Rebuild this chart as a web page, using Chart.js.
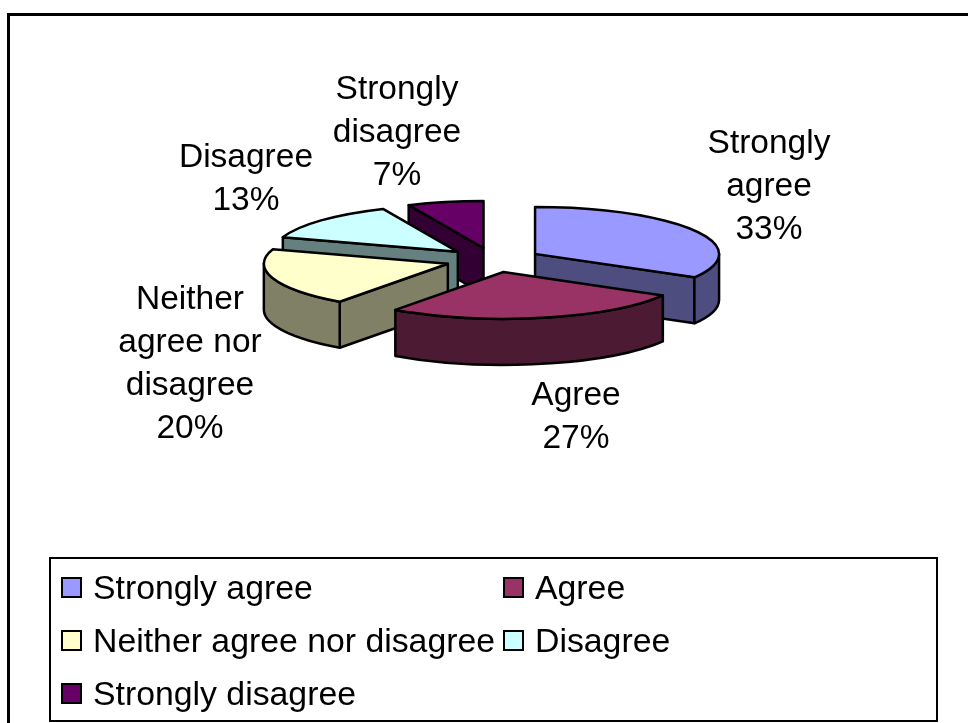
<!DOCTYPE html>
<html>
<head>
<meta charset="utf-8">
<title>Agreement pie</title>
<script src="https://cdn.jsdelivr.net/npm/chart.js@4"></script>
<style>
  html, body { margin: 0; padding: 0; background: #fff; }
  canvas { display: block; }
</style>
</head>
<body>
<canvas id="pie" width="968" height="723"></canvas>
<script>
const categories = ["Strongly agree", "Agree", "Neither agree nor disagree", "Disagree", "Strongly disagree"];
const responses = [5, 4, 3, 2, 1];
const topColors = ["#9999ff", "#993366", "#ffffcc", "#ccffff", "#660066"];
const sideColors = ["#4d4d80", "#4d1a33", "#808066", "#668080", "#330033"];
const labelLines = [
  ["Strongly", "agree"],
  ["Agree"],
  ["Neither", "agree nor", "disagree"],
  ["Disagree"],
  ["Strongly", "disagree"]
];

// layout only, not data
const LABEL_FONT = '33.5px "Liberation Sans", Arial, sans-serif';
const LEGEND_FONT = '33.8px "Liberation Sans", Arial, sans-serif';
const TILT = 0.255;
const DEPTH = 46;
const LABEL_BOXES = [[769, 144], [576, 396], [190, 300], [246, 158], [397, 90]];
const LABEL_LINE_H = 42.8;
const LEGEND_BOX = { left: 50, top: 558, right: 937, bottom: 721 };
const LEGEND_COLS = [62, 504];
const LEGEND_ROWS = [578, 631, 684];

function sidePath(ctx, x, y, rx, ry, a, b) {
  ctx.beginPath();
  ctx.ellipse(x, y, rx, ry, 0, a, b);
  ctx.ellipse(x, y + DEPTH, rx, ry, 0, b, a, true);
  ctx.closePath();
}

function radialWall(ctx, x, y, rx, ry, angle) {
  const ex = x + Math.cos(angle) * rx;
  const ey = y + Math.sin(angle) * ry;
  ctx.beginPath();
  ctx.moveTo(x, y);
  ctx.lineTo(ex, ey);
  ctx.lineTo(ex, ey + DEPTH);
  ctx.lineTo(x, y + DEPTH);
  ctx.closePath();
}

function paint(ctx, fill) {
  ctx.fillStyle = fill;
  ctx.fill();
  ctx.stroke();
}

// draws one exploded slice, tilted, from the arc the library laid out
function drawSlice(ctx, arc, i) {
  const mid = (arc.startAngle + arc.endAngle) / 2;
  const shift = arc.options.offset / 4;
  const rx = arc.outerRadius;
  const ry = rx * TILT;
  const x = arc.x + Math.cos(mid) * shift;
  const y = arc.y + Math.sin(mid) * shift * TILT;

  // side walls facing the viewer
  if (Math.cos(arc.startAngle) < -0.001) {
    radialWall(ctx, x, y, rx, ry, arc.startAngle);
    paint(ctx, sideColors[i]);
  }
  if (Math.cos(arc.endAngle) > 0.001) {
    radialWall(ctx, x, y, rx, ry, arc.endAngle);
    paint(ctx, sideColors[i]);
  }
  const from = Math.max(arc.startAngle, 0);
  const to = Math.min(arc.endAngle, Math.PI);
  if (to > from) {
    sidePath(ctx, x, y, rx, ry, from, to);
    paint(ctx, sideColors[i]);
  }

  ctx.beginPath();
  ctx.moveTo(x, y);
  ctx.ellipse(x, y, rx, ry, 0, arc.startAngle, arc.endAngle);
  ctx.closePath();
  paint(ctx, topColors[i]);
}

const tiltedPie = {
  id: "tiltedPie",
  beforeDraw(chart) {
    const ctx = chart.ctx;
    ctx.save();
    ctx.fillStyle = "#000";
    ctx.fillRect(7, 13, 961, 3); // outer frame, only top and left show
    ctx.fillRect(7, 13, 3, 710);
    ctx.restore();
  },
  beforeDatasetsDraw(chart) {
    const ctx = chart.ctx;
    const arcs = chart.getDatasetMeta(0).data;
    const order = arcs.map((a, i) => i).sort((p, q) =>
      Math.sin((arcs[p].startAngle + arcs[p].endAngle) / 2) -
      Math.sin((arcs[q].startAngle + arcs[q].endAngle) / 2));

    ctx.save();
    ctx.strokeStyle = "#000";
    ctx.lineWidth = 2.5;
    ctx.lineJoin = "round";
    order.forEach(i => drawSlice(ctx, arcs[i], i));
    ctx.restore();
    return false; // the flat pie is replaced by the tilted one
  },
  afterDraw(chart) {
    const ctx = chart.ctx;
    const total = responses.reduce((s, v) => s + v, 0);
    ctx.save();
    ctx.font = LABEL_FONT;
    ctx.fillStyle = "#000";
    ctx.textBaseline = "middle";

    // data labels
    ctx.textAlign = "center";
    labelLines.forEach((lines, i) => {
      const pct = Math.round(responses[i] / total * 100) + "%";
      lines.concat(pct).forEach((t, n) => {
        ctx.fillText(t, LABEL_BOXES[i][0], LABEL_BOXES[i][1] + n * LABEL_LINE_H);
      });
    });

    // legend box, two columns
    ctx.font = LEGEND_FONT;
    ctx.strokeStyle = "#000";
    ctx.lineWidth = 2;
    ctx.strokeRect(LEGEND_BOX.left, LEGEND_BOX.top, LEGEND_BOX.right - LEGEND_BOX.left, LEGEND_BOX.bottom - LEGEND_BOX.top);
    ctx.textAlign = "left";
    chart.legend.legendItems.forEach((item, i) => {
      const lx = LEGEND_COLS[i % 2];
      const ly = LEGEND_ROWS[Math.floor(i / 2)];
      ctx.fillStyle = item.fillStyle;
      ctx.fillRect(lx, ly, 19, 19);
      ctx.strokeRect(lx, ly, 19, 19);
      ctx.fillStyle = "#000";
      ctx.fillText(item.text, lx + 31, ly + 12);
    });
    ctx.restore();
  }
};

new Chart(document.getElementById("pie"), {
  type: "pie",
  data: {
    labels: categories,
    datasets: [{ data: responses, backgroundColor: topColors, borderColor: "#000", offset: 192 }]
  },
  plugins: [tiltedPie],
  options: {
    responsive: false,
    animation: false,
    radius: 184,
    layout: { padding: { left: 19, bottom: 203 } },
    plugins: {
      legend: { display: false },
      tooltip: { enabled: false }
    }
  }
});
</script>
</body>
</html>
